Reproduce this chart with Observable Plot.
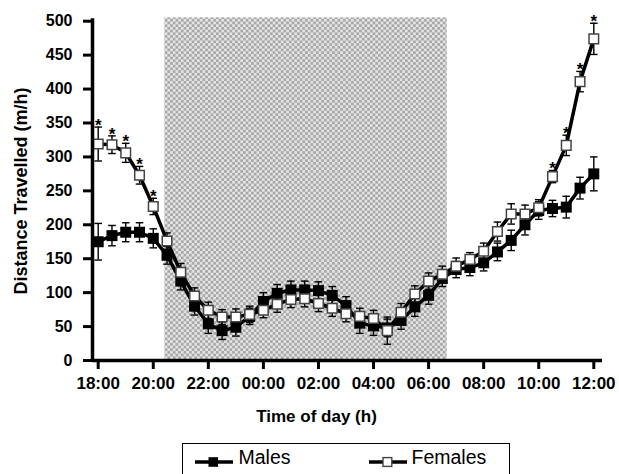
<!DOCTYPE html>
<html><head><meta charset="utf-8">
<script src="https://cdn.jsdelivr.net/npm/d3@7"></script>
<script src="https://cdn.jsdelivr.net/npm/@observablehq/plot@0.6"></script>
<style>
body{margin:0;background:#fff;font-family:"Liberation Sans",Arial,Helvetica,sans-serif;}
#chart{position:relative;width:619px;height:474px;overflow:hidden;background:#fff;}
#chart svg.plot{display:block;}
.legend{position:absolute;left:182px;top:443px;width:326px;height:44px;border:1.5px solid #000;box-sizing:content-box;}
.legend .sym{position:absolute;top:10px;}
.legend .lab{position:absolute;top:4px;font-size:19.5px;line-height:1;color:#000;white-space:nowrap;}
</style></head><body>
<div id="chart"></div>
<script>
// ---- data ----
const timeLabels = ["18:00","18:30","19:00","19:30","20:00","20:30","21:00","21:30","22:00","22:30","23:00","23:30","00:00","00:30","01:00","01:30","02:00","02:30","03:00","03:30","04:00","04:30","05:00","05:30","06:00","06:30","07:00","07:30","08:00","08:30","09:00","09:30","10:00","10:30","11:00","11:30","12:00"];
const hoursSince18 = [0,0.5,1,1.5,2,2.5,3,3.5,4,4.5,5,5.5,6,6.5,7,7.5,8,8.5,9,9.5,10,10.5,11,11.5,12,12.5,13,13.5,14,14.5,15,15.5,16,16.5,17,17.5,18];
const malesMean = [175,184,189,189,180,155,117,80,54,44,49,65,87,99,104,104,103,96,81,55,51,48,59,79,96,121,134,137,144,160,177,200,221,224,226,254,275];
const malesSEM  = [27,15,14,14,14,13,13,13,14,13,13,12,13,13,13,13,13,13,13,15,14,13,13,14,13,12,12,12,12,13,15,15,13,12,16,16,25];
const femalesMean = [319,318,306,273,227,176,130,95,74,64,64,68,74,83,90,91,84,77,69,65,62,44,71,98,117,127,139,149,161,190,216,216,225,271,317,411,474];
const femalesSEM  = [25,13,14,13,12,12,13,12,12,11,12,12,11,12,12,12,12,12,12,12,12,20,13,12,12,12,12,10,12,14,15,13,12,9,15,15,23];
const femalesSignificant = [0,1,2,3,4,33,34,35,36]; // indices marked with *
const darkStart = 2.42, darkEnd = 12.68; // shaded (lights-off) period, hours after 18:00
const xTickValues = [0,2,4,6,8,10,12,14,16,18];
const xTickLabels = ["18:00","20:00","22:00","00:00","02:00","04:00","06:00","08:00","10:00","12:00"];
const yTickValues = [0,50,100,150,200,250,300,350,400,450,500];
const xTitle = "Time of day (h)";
const yTitle = "Distance Travelled (m/h)";
const seriesNames = ["Males","Females"];

// ---- tables ----
const males = hoursSince18.map((t,i)=>({t, label: timeLabels[i], mean: malesMean[i], sem: malesSEM[i]}));
const females = hoursSince18.map((t,i)=>({t, label: timeLabels[i], mean: femalesMean[i], sem: femalesSEM[i], sig: femalesSignificant.includes(i)}));

const xMin = -0.207, xMax = 18.316;
const capSymbol = {draw(ctx){ ctx.moveTo(-3.8,0); ctx.lineTo(3.8,0); }};
const lo = d => d.mean - d.sem, hi = d => d.mean + d.sem;

function errorMarks(data){
  return [
    Plot.ruleX(data, {x: "t", y1: lo, y2: hi, stroke: "#000", strokeWidth: 1.4}),
    Plot.dot(data, {x: "t", y: lo, symbol: capSymbol, r: 3, fill: "none", stroke: "#000", strokeWidth: 1.4}),
    Plot.dot(data, {x: "t", y: hi, symbol: capSymbol, r: 3, fill: "none", stroke: "#000", strokeWidth: 1.4})
  ];
}

const svg = Plot.plot({
  width: 619, height: 440,
  marginLeft: 92, marginRight: 17, marginTop: 21, marginBottom: 80,
  style: {fontFamily: "'Liberation Sans', Arial, Helvetica, sans-serif", color: "#000", background: "#fff", overflow: "visible"},
  x: {domain: [xMin, xMax]},
  y: {domain: [0, 500], range: [360, 20.7]},
  marks: [
    Plot.rect([{start: darkStart, end: darkEnd}], {x1: "start", x2: "end", y1: 0, y2: 505, fill: "url(#checker)"}),
    Plot.axisY(yTickValues, {tickSize: 9, tickPadding: 11, strokeWidth: 3, fontSize: 16, fontWeight: "bold", label: null}),
    Plot.axisX(xTickValues, {tickSize: 9, tickPadding: 7, strokeWidth: 3, fontSize: 17, fontWeight: "bold", label: null,
      tickFormat: d => xTickLabels[xTickValues.indexOf(d)]}),
    ...errorMarks(males),
    Plot.line(males, {x: "t", y: "mean", stroke: "#000", strokeWidth: 3.5}),
    Plot.dot(males, {x: "t", y: "mean", symbol: "square", r: 6.2, fill: "#000"}),
    ...errorMarks(females),
    Plot.line(females, {x: "t", y: "mean", stroke: "#000", strokeWidth: 3.5}),
    Plot.dot(females, {x: "t", y: "mean", symbol: "square", r: 5.4, fill: "#fff", stroke: "#444", strokeWidth: 1.5}),
    Plot.text(females.filter(d => d.sig), {x: "t", y: hi, text: () => "*", fontSize: 17, fontWeight: "bold", lineAnchor: "bottom", dy: 4}),
    Plot.ruleX([xMin], {y1: 0, y2: 503.5, stroke: "#000", strokeWidth: 3.5}),
    Plot.ruleY([0], {x1: xMin, x2: xMax, stroke: "#000", strokeWidth: 3.5}),
    Plot.text([yTitle], {frameAnchor: "left", dx: -71.5, rotate: -90, text: d => d, fontSize: 18, fontWeight: "bold", lineAnchor: "middle", textAnchor: "middle"}),
    Plot.text([xTitle], {frameAnchor: "bottom-left", dx: 224, dy: 56.5, text: d => d, fontSize: 17, fontWeight: "bold", lineAnchor: "middle", textAnchor: "middle"})
  ]
});

const ns = "http://www.w3.org/2000/svg";
const defs = document.createElementNS(ns, "defs");
defs.innerHTML = '<pattern id="checker" width="5.4" height="5.4" patternUnits="userSpaceOnUse">' +
  '<rect width="5.4" height="5.4" fill="#e4e4e4"/>' +
  '<rect width="2.7" height="2.7" fill="#a8a8a8"/>' +
  '<rect x="2.7" y="2.7" width="2.7" height="2.7" fill="#a8a8a8"/></pattern>';
svg.insertBefore(defs, svg.firstChild);

const chart = document.getElementById("chart");
chart.appendChild(svg);

// legend (below the SVG)
const legend = document.createElement("div");
legend.className = "legend";
function sym(filled){
  return `<svg width="38" height="12" viewBox="0 0 38 12"><line x1="0" x2="38" y1="6" y2="6" stroke="#000" stroke-width="3.5"/>` +
    (filled ? `<rect x="13.5" y="1.2" width="9.6" height="9.6" fill="#000"/>`
            : `<rect x="14" y="1.6" width="8.8" height="8.8" fill="#fff" stroke="#444" stroke-width="1.4"/>`) + `</svg>`;
}
legend.innerHTML =
  `<span class="sym" style="left:11.5px">${sym(true)}</span><span class="lab" style="left:55.5px">${seriesNames[0]}</span>` +
  `<span class="sym" style="left:185.5px">${sym(false)}</span><span class="lab" style="left:228.5px">${seriesNames[1]}</span>`;
chart.appendChild(legend);
</script>
</body></html>
